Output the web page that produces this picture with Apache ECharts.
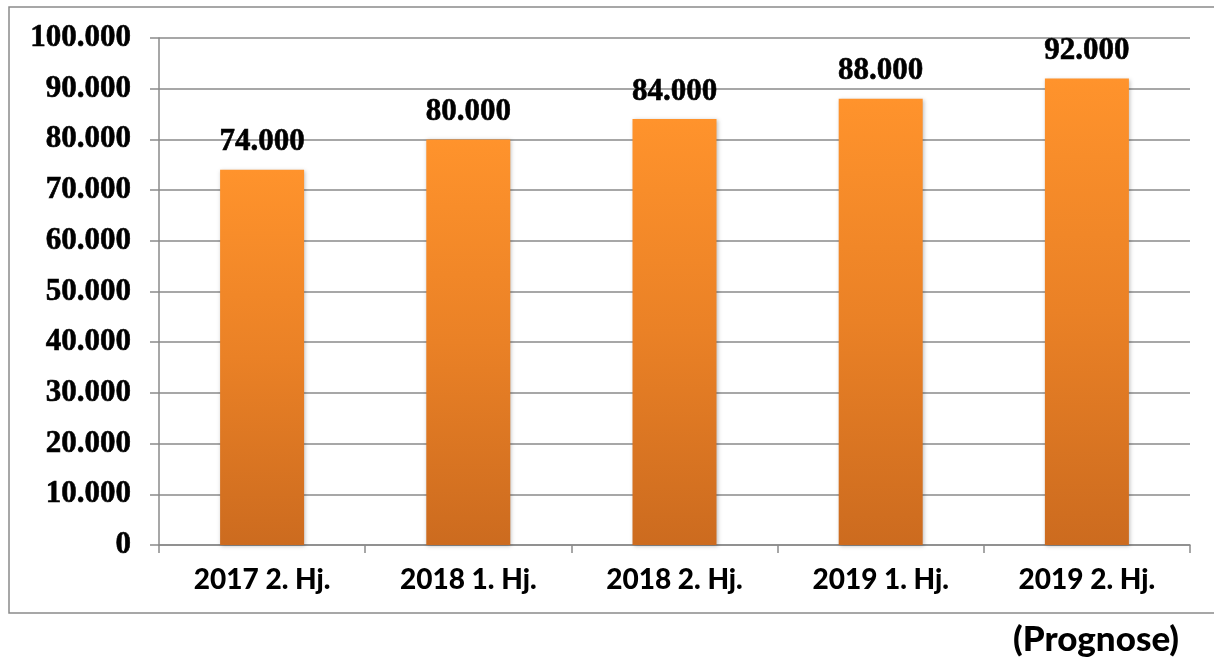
<!DOCTYPE html>
<html>
<head>
<meta charset="utf-8">
<style>
html,body{margin:0;padding:0;background:#fff;}
#chart{width:1214px;height:661px;}
</style>
<script src="https://cdn.jsdelivr.net/npm/echarts@6/dist/echarts.min.js"></script>
</head>
<body>
<div id="chart"></div>
<script>
const categories = ['2017 2. Hj.', '2018 1. Hj.', '2018 2. Hj.', '2019 1. Hj.', '2019 2. Hj.'];
const values = [74000, 80000, 84000, 88000, 92000];
const noteText = '(Prognose)';

const fmt = v => String(v).replace(/\B(?=(\d{3})+(?!\d))/g, '.');

const chart = echarts.init(document.getElementById('chart'));
chart.setOption({
  animation: false,
  backgroundColor: '#ffffff',
  grid: {left: 159, right: 24, top: 38, bottom: 116, containLabel: false},
  xAxis: {
    type: 'category',
    data: categories,
    axisLine: {show: true, lineStyle: {color: '#8a8a8a', width: 1.5}},
    axisTick: {show: true, length: 8, alignWithLabel: false, lineStyle: {color: '#8a8a8a', width: 1.5}},
    axisLabel: {color: '#000', fontFamily: 'Lato', fontWeight: 900, fontSize: 28, margin: 21}
  },
  yAxis: {
    type: 'value',
    min: 0, max: 100000, interval: 10000,
    axisLine: {show: true, lineStyle: {color: '#8a8a8a', width: 1.5}},
    axisTick: {show: true, length: 9, lineStyle: {color: '#8a8a8a', width: 1.5}},
    splitLine: {show: true, lineStyle: {color: '#8a8a8a', width: 1.5}},
    axisLabel: {color: '#000', fontFamily: 'Liberation Serif', fontWeight: 'bold', fontSize: 31, margin: 28,
      textBorderColor: '#000', textBorderWidth: 0.6, formatter: fmt}
  },
  series: [{
    type: 'bar',
    data: values,
    barWidth: 84,
    itemStyle: {
      color: new echarts.graphic.LinearGradient(0, 0, 0, 1, [
        {offset: 0, color: '#FF932C'},
        {offset: 0.5, color: '#EA8126'},
        {offset: 1, color: '#CC6B1F'}
      ]),
      shadowColor: 'rgba(0,0,0,0.25)', shadowBlur: 4, shadowOffsetX: 1, shadowOffsetY: 1
    },
    label: {
      show: true, position: 'top', distance: 12,
      color: '#000', fontFamily: 'Liberation Serif', fontWeight: 'bold', fontSize: 31,
      textBorderColor: '#000', textBorderWidth: 0.6,
      formatter: p => fmt(p.value)
    }
  }],
  graphic: [
    {type: 'rect', silent: true, shape: {x: 9, y: 7, width: 1230, height: 606},
     style: {fill: 'none', stroke: '#8a8a8a', lineWidth: 1.5}},
    {type: 'text', left: 1013, top: 622,
     style: {text: noteText, fill: '#000', font: '900 35px Lato'}}
  ]
});
</script>
</body>
</html>
